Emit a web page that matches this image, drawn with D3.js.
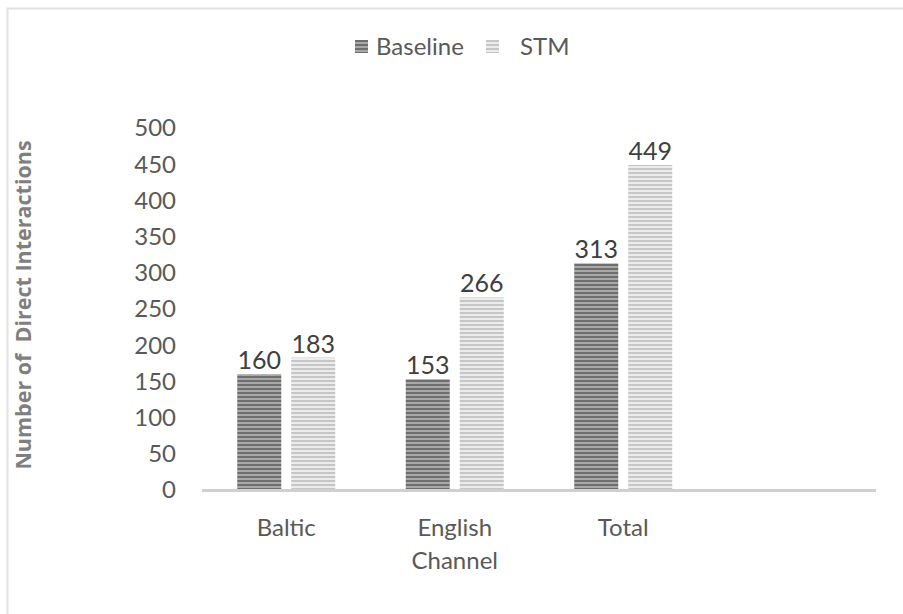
<!DOCTYPE html>
<html lang="en">
<head>
<meta charset="utf-8">
<title>Direct interactions</title>
<script src="https://d3js.org/d3.v7.min.js"></script>
<style>
body { margin: 0; background: #fff; }
text { font-family: Lato, "Liberation Sans", sans-serif; fill: #595959; }
</style>
</head>
<body>
<div id="container"></div>
<script>
// data
var categories = ["Baltic", "English Channel", "Total", ""];
var seriesNames = ["Baseline", "STM"];
var baseline = [160, 153, 313];
var stm = [183, 266, 449];
var yTicks = [0, 50, 100, 150, 200, 250, 300, 350, 400, 450, 500];

var w = 903, h = 614;
var svg = d3.select("#container").append("svg").attr("width", w).attr("height", h);

// stripe patterns
var defs = svg.append("defs");
function stripes(id, c1, c2) {
    var p = defs.append("pattern").attr("id", id)
        .attr("patternUnits", "userSpaceOnUse").attr("width", 8).attr("height", 4);
    p.append("rect").attr("width", 8).attr("height", 4).attr("fill", c1);
    p.append("rect").attr("y", 2).attr("width", 8).attr("height", 2).attr("fill", c2);
}
stripes("pBase", "#6e6e6e", "#a8a8a8");
stripes("pStm", "#c6c6c6", "#ececec");
var fills = ["url(#pBase)", "url(#pStm)"];

// frame
svg.append("path").attr("d", "M7.5," + h + "V8.5H" + w)
    .attr("fill", "none").attr("stroke", "#e2e2e2").attr("stroke-width", 2);

var plotL = 202, plotR = 876, plotT = 128, plotB = 490;

var x = d3.scaleBand().domain(categories).range([plotL, plotR]);
var y = d3.scaleLinear().domain([0, 500]).range([plotB, plotT]);
var barW = 44, gap = 10;

// y tick labels
svg.append("g").selectAll("text").data(yTicks).enter().append("text")
    .attr("x", 176).attr("y", d => y(d)).attr("dy", "0.35em")
    .attr("text-anchor", "end").style("font-size", "24px")
    .text(d => d);

// bars
var rows = [];
baseline.forEach(function(v, i) {
    rows.push({cat: categories[i], s: 0, v: v});
    rows.push({cat: categories[i], s: 1, v: stm[i]});
});
function bx(d) {
    var c = x(d.cat) + x.bandwidth() / 2;
    return d.s === 0 ? c - gap / 2 - barW : c + gap / 2;
}
svg.append("g").selectAll("rect").data(rows).enter().append("rect")
    .attr("x", bx).attr("y", d => y(d.v))
    .attr("width", barW).attr("height", d => plotB - y(d.v))
    .attr("fill", d => fills[d.s]);

// value labels
svg.append("g").selectAll("text").data(rows).enter().append("text")
    .attr("x", d => bx(d) + barW / 2).attr("y", d => y(d.v) - 5)
    .attr("text-anchor", "middle").style("font-size", "25px").style("fill", "#404040")
    .text(d => d.v);

// x axis line
svg.append("line").attr("x1", plotL).attr("x2", plotR).attr("y1", plotB + 0.5).attr("y2", plotB + 0.5)
    .attr("stroke", "#d0d0d0").attr("stroke-width", 3);

// category labels
var catLines = [["Baltic"], ["English", "Channel"], ["Total"], []];
categories.forEach(function(c, i) {
    var cx = x(c) + x.bandwidth() / 2;
    var t = svg.append("text").attr("x", cx).attr("y", 536)
        .attr("text-anchor", "middle").style("font-size", "24px");
    catLines[i].forEach(function(l, j) {
        t.append("tspan").attr("x", cx).attr("dy", j === 0 ? 0 : 33).text(l);
    });
});

// y axis title
svg.append("text").attr("transform", "translate(31,305) rotate(-90)")
    .attr("text-anchor", "middle").style("font-size", "21.5px").style("font-weight", "bold")
    .style("font-family", "'Open Sans', 'Noto Sans', sans-serif")
    .style("fill", "#7f7f7f").attr("xml:space", "preserve")
    .text("Number of  Direct Interactions");

// legend
var lg = svg.append("g");
var legX = [355, 486];
seriesNames.forEach(function(n, i) {
    lg.append("rect").attr("x", legX[i]).attr("y", 40).attr("width", 13).attr("height", 13)
        .attr("fill", fills[i]);
    lg.append("text").attr("x", legX[i] + (i === 0 ? 21 : 34)).attr("y", 47).attr("dy", "0.35em")
        .style("font-size", "24px").text(n);
});
</script>
</body>
</html>
